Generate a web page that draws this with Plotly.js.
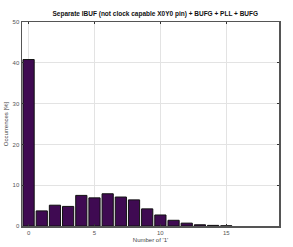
<!DOCTYPE html>
<html><head><meta charset="utf-8">
<script src="https://cdn.plot.ly/plotly-3.0.1.min.js"></script>
<style>html,body{margin:0;padding:0;background:#fff}#c{width:293px;height:247px}</style>
</head><body><div id="c"></div>
<script>
const counts = [0,1,2,3,4,5,6,7,8,9,10,11,12,13,14,15];
const occurrences = [40.8,3.7,5.1,4.8,7.5,6.9,7.9,7.1,6.4,4.2,2.7,1.4,0.7,0.3,0.15,0.05];
const xTicks = [0,5,10,15];
const yTicks = [0,10,20,30,40,50];

const axisCommon = {
  showline:true, mirror:'ticks', linecolor:'#555', linewidth:1.5,
  ticks:'inside', ticklen:2, tickcolor:'#333',
  showgrid:true, gridcolor:'#e3e3e3', gridwidth:1, zeroline:false,
  tickfont:{family:'Liberation Sans, Arial', size:6, color:'#555'}
};
Plotly.newPlot('c',[{
  type:'bar', x:counts, y:occurrences, width:0.85,
  marker:{color:'#3f0a52', line:{color:'#111', width:1}}
}],{
  width:293, height:247,
  margin:{l:22,r:14,t:22,b:21},
  paper_bgcolor:'#fff', plot_bgcolor:'#fff',
  title:{text:'<b>Separate IBUF (not clock capable X0Y0 pin) + BUFG + PLL + BUFG</b>',
    font:{family:'Liberation Sans, Arial', size:6.5, color:'#111'}, x:0.53, xanchor:'center', y:0.945, yanchor:'middle'},
  xaxis:Object.assign({}, axisCommon, {range:[-0.5,19], tickvals:xTicks, ticktext:xTicks.map(String),
    title:{text:"Number of '1'", font:{family:'Liberation Sans, Arial', size:6, color:'#444'}, standoff:3}}),
  yaxis:Object.assign({}, axisCommon, {range:[0,50], tickvals:yTicks, ticktext:yTicks.map(String),
    title:{text:'Occurrences [%]', font:{family:'Liberation Sans, Arial', size:6, color:'#444'}, standoff:3}}),
  bargap:0.15, showlegend:false
},{staticPlot:true});
</script></body></html>
